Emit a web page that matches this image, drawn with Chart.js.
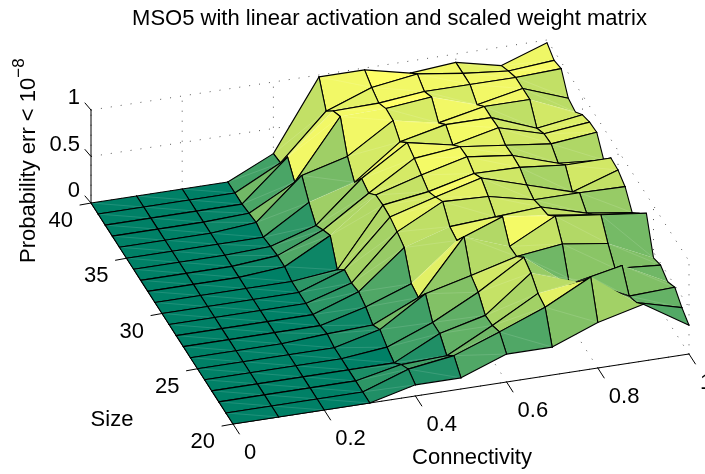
<!DOCTYPE html>
<html>
<head>
<meta charset="utf-8">
<style>
  html, body { margin: 0; background: #fff; overflow: hidden; }
</style>
<script src="https://cdn.jsdelivr.net/npm/chart.js@4"></script>
</head>
<body>
<canvas id="surfaceChart" width="705" height="474"></canvas>
<script>
const connectivity = [0, 0.1, 0.2, 0.3, 0.4, 0.5, 0.6, 0.7, 0.8, 0.9, 1];
const sizes = [40, 39, 38, 37, 36, 35, 34, 33, 32, 31, 30, 29, 28, 27, 26, 25, 24, 23, 22, 21, 20];

// one row per size, 40 down to 20
const size40 = [0, 0, 0, 0, .23, .98, .98, .87, .91, .80, .97];
const size39 = [0, 0, 0, 0, .25, .73, .91, .98, .91, .86, .90];
const size38 = [0, 0, 0, 0, .43, .85, .86, .91, .91, .91, .93];
const size37 = [0, 0, 0, .02, .28, .91, .92, .97, .81, .91, .73];
const size36 = [0, 0, 0, .04, .47, .60, .91, .81, .91, .91, .70];
const size35 = [0, 0, 0, 0, .30, .44, .80, .91, .91, .72, .79];
const size34 = [0, 0, 0, .02, .17, .60, .91, .81, .92, .78, .83];
const size33 = [0, 0, 0, .04, .24, .56, .86, .91, .85, .79, .84];
const size32 = [0, 0, 0, .04, .30, .66, .80, .92, .86, .70, .66];
const size31 = [0, 0, 0, 0, .05, .67, .74, .86, .85, .80, .80];
const size30 = [0, 0, 0, 0, .17, .66, .80, .93, .78, .63, .79];
const size29 = [0, 0, 0, 0, .145, .62, .87, .85, .74, .74, .73];
const size28 = [0, 0, 0, 0, .17, .57, .72, .75, .78, .64, .57];
const size27 = [0, 0, 0, 0, .125, .30, .69, .87, .81, .74, .68];
const size26 = [0, 0, 0, .03, .05, .27, .85, .67, .92, .86, .80];
const size25 = [0, 0, 0, 0, .12, .43, .55, .68, .74, .67, .44];
const size24 = [0, 0, 0, 0, .05, .24, .49, .79, .42, .52, .48];
const size23 = [0, 0, 0, 0, 0, .24, .36, .74, .57, .67, .42];
const size22 = [0, 0, 0, 0, .10, .12, .37, .64, .70, .46, .48];
const size21 = [0, 0, 0, 0, .17, .24, .42, .61, .86, .51, .38];
const size20 = [0, 0, 0, 0, .12, .12, .30, .30, .49, .61, .31];
const probability = [size40, size39, size38, size37, size36, size35, size34, size33, size32, size31, size30,
  size29, size28, size27, size26, size25, size24, size23, size22, size21, size20];

const connectivityTicks = [0, 0.2, 0.4, 0.6, 0.8, 1];
const sizeTicks = [40, 35, 30, 25, 20];
const probTicks = [0, 0.5, 1];

// orthographic view of the matlab axes box, in canvas pixels
function project(c, s, z) {
  return {
    x: 91 + 456 * c + 7.1 * (40 - s),
    y: 203 - 70 * c + 11.05 * (40 - s) - 93 * z
  };
}

// matlab "summer" colormap
function summer(z) {
  const t = Math.min(1, z / 0.96);
  return `rgb(${Math.round(255 * t)}, ${Math.round(127.5 + 127.5 * t)}, 102)`;
}

const datasets = [];

function addLine(points, color, width, dash) {
  datasets.push({
    data: points,
    showLine: true,
    fill: false,
    borderColor: color,
    borderWidth: width,
    borderDash: dash || [],
    borderCapStyle: dash ? "butt" : "round",
    pointRadius: 0
  });
}

const dots = [1, 9];
const dotColor = "#555";

// back walls and floor grid
probTicks.slice(1).forEach(z => {
  addLine([project(0, 40, z), project(1, 40, z), project(1, 20, z)], dotColor, 1, dots);
});
connectivityTicks.forEach(c => {
  addLine([project(c, 20, 0), project(c, 40, 0), project(c, 40, 1)], dotColor, 1, dots);
});
sizeTicks.forEach(s => {
  addLine([project(0, s, 0), project(1, s, 0), project(1, s, 1)], dotColor, 1, dots);
});

// axis lines and ticks
addLine([project(0, 40, 0), project(0, 40, 1)], "#000", 1);
addLine([project(0, 40, 0), project(0, 20, 0), project(1, 20, 0)], "#000", 1);
probTicks.forEach(z => {
  const p = project(0, 40, z);
  addLine([p, { x: p.x - 6, y: p.y - 7 }], "#000", 1);
});
sizeTicks.forEach(s => {
  const p = project(0, s, 0);
  addLine([p, { x: p.x - 11, y: p.y + 2 }], "#000", 1);
});
connectivityTicks.forEach(c => {
  const p = project(c, 20, 0);
  addLine([p, project(c, 19.1, 0)], "#000", 1);
});

// strongly folded faces lose their far edge in the original renderer
function folded(i, j) {
  if (i < 1 || i >= sizes.length - 1) return false;
  const fold = probability[i][j] + probability[i + 1][j + 1] - probability[i][j + 1] - probability[i + 1][j];
  return fold > 0.18;
}

// surface, far faces first
for (let i = 0; i < sizes.length - 1; i++) {
  for (let j = connectivity.length - 2; j >= 0; j--) {
    const a = project(connectivity[j], sizes[i], probability[i][j]);
    const b = project(connectivity[j + 1], sizes[i], probability[i][j + 1]);
    const c = project(connectivity[j + 1], sizes[i + 1], probability[i + 1][j + 1]);
    const d = project(connectivity[j], sizes[i + 1], probability[i + 1][j]);
    datasets.push({
      data: [a, b, c, d, a],
      showLine: true,
      fill: "shape",
      backgroundColor: summer(probability[i + 1][j + 1]),
      borderWidth: 0,
      pointRadius: 0
    });
    addLine([a, c], "rgba(255,255,255,0.25)", 0.5);
    if (!folded(i, j)) addLine([a, b], "#000", 1.1);
    addLine([b, c], "#000", 1.1);
    if (!folded(i + 1, j)) addLine([c, d], "#000", 1.1);
    addLine([d, a], "#000", 1.1);
  }
}

// lower order is painted later
datasets.forEach((ds, k) => { ds.order = -k; });

const axisText = {
  id: "axisText",
  afterDraw(chart) {
    const ctx = chart.ctx;
    ctx.save();
    ctx.fillStyle = "#000";
    ctx.font = "22px 'Liberation Sans'";
    ctx.textBaseline = "middle";

    ctx.textAlign = "center";
    ctx.fillText("MSO5 with linear activation and scaled weight matrix", 389.5, 19);
    ctx.fillText("Size", 112, 420);
    ctx.fillText("Connectivity", 472, 458);

    ctx.textAlign = "right";
    probTicks.forEach(z => {
      const p = project(0, 40, z);
      ctx.fillText(String(z), p.x - 11, p.y - 12);
    });
    sizeTicks.forEach(s => {
      const p = project(0, s, 0);
      ctx.fillText(String(s), p.x - 18, p.y + 18);
    });

    ctx.textAlign = "left";
    connectivityTicks.forEach(c => {
      const p = project(c, 20, 0);
      ctx.fillText(String(c), p.x + 11, p.y + 29);
    });

    // rotated z label with superscript
    ctx.translate(35, 263);
    ctx.rotate(-Math.PI / 2);
    ctx.textBaseline = "alphabetic";
    const label = "Probability err < 10";
    ctx.fillText(label, 0, 0);
    const w = ctx.measureText(label).width;
    ctx.font = "17px 'Liberation Sans'";
    ctx.fillText("\u22128", w, -11);
    ctx.restore();
  }
};

new Chart(document.getElementById("surfaceChart"), {
  type: "scatter",
  data: { datasets },
  plugins: [axisText],
  options: {
    responsive: false,
    animation: false,
    layout: { padding: 0 },
    plugins: { legend: { display: false }, tooltip: { enabled: false } },
    scales: {
      x: { display: false, min: 0, max: 705 },
      y: { display: false, min: 0, max: 474, reverse: true }
    }
  }
});
</script>
</body>
</html>
